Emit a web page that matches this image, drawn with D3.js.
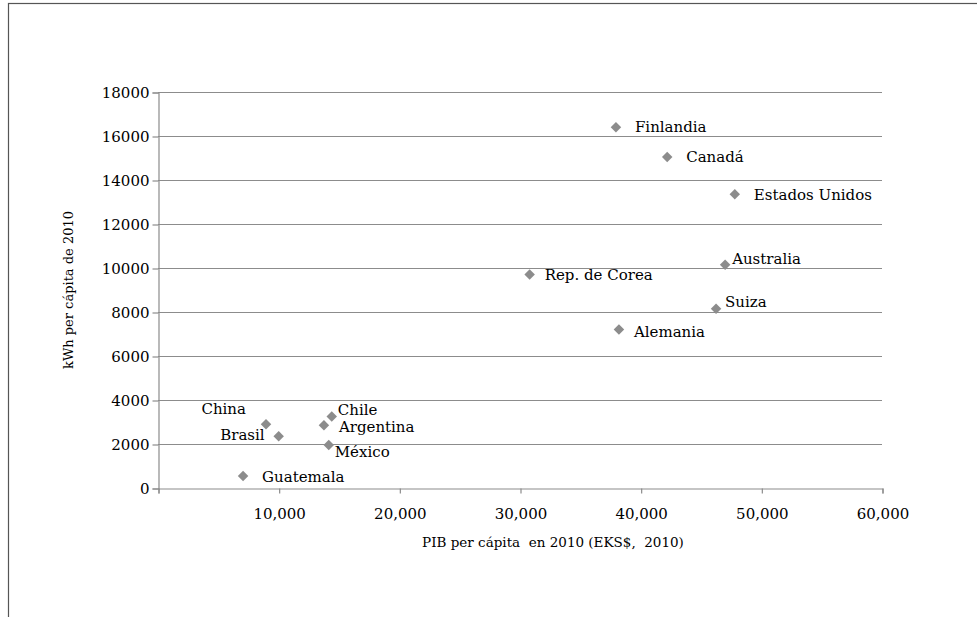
<!DOCTYPE html>
<html>
<head>
<meta charset="utf-8">
<script src="https://cdn.jsdelivr.net/npm/d3@7"></script>
<style>
  body { margin: 0; background: #fff; }
  text { font-family: "DejaVu Serif", serif; fill: #000; }
</style>
</head>
<body>
<div id="canvas"></div>
<script>
"use strict"

/* Data */
let countries = ["Finlandia", "Canadá", "Estados Unidos", "Australia", "Rep. de Corea",
    "Suiza", "Alemania", "China", "Brasil", "Chile", "Argentina", "México", "Guatemala"];
let gdpPerCapita = [37950, 42200, 47800, 47000, 30800, 46250, 38200, 8950, 10000, 14400, 13750, 14150, 7050];
let kwhPerCapita = [16400, 15050, 13350, 10150, 9700, 8150, 7200, 2900, 2350, 3250, 2850, 1950, 550];
let xTicks = [10000, 20000, 30000, 40000, 50000, 60000];
let yTicks = [0, 2000, 4000, 6000, 8000, 10000, 12000, 14000, 16000, 18000];

/* where each label sits next to its marker: dx, dy, anchor */
let labelPlace = {
    "Finlandia": [19, 0, "start"],
    "Canadá": [19, 0, "start"],
    "Estados Unidos": [19, 0, "start"],
    "Australia": [7, -6, "start"],
    "Rep. de Corea": [15, 0, "start"],
    "Suiza": [9, -7, "start"],
    "Alemania": [15, 2, "start"],
    "China": [-20, -15, "end"],
    "Brasil": [-14, -2, "end"],
    "Chile": [6, -7, "start"],
    "Argentina": [15, 1, "start"],
    "México": [6, 7, "start"],
    "Guatemala": [19, 1, "start"]
};

let points = countries.map((c, i) => ({ name: c, x: gdpPerCapita[i], y: kwhPerCapita[i] }));

let drawing = d3.select("#canvas")
    .append("svg")
    .attr("width", 977)
    .attr("height", 617);

/* outer frame (only top and left edges show) */
drawing.append("rect")
    .attr("x", 8.5)
    .attr("y", 3.5)
    .attr("width", 1000)
    .attr("height", 700)
    .attr("fill", "none")
    .attr("stroke", "#555")
    .attr("stroke-width", 1.2);

let plotLeft = 158, plotRight = 882, plotTop = 92, plotBottom = 488;

let x = d3.scaleLinear().domain([0, 60000]).range([plotLeft, plotRight]);
let y = d3.scaleLinear().domain([0, 18000]).range([plotBottom, plotTop]);

/* horizontal gridlines */
drawing.append("g")
    .selectAll("line")
    .data(yTicks.filter(d => d > 0))
    .join("line")
    .attr("x1", plotLeft)
    .attr("x2", plotRight)
    .attr("y1", d => Math.round(y(d)) + 0.5)
    .attr("y2", d => Math.round(y(d)) + 0.5)
    .attr("stroke", "#8c8c8c")
    .attr("stroke-width", 1.2);

/* y axis */
let yAxis = drawing.append("g")
    .attr("transform", `translate(${plotLeft + 0.5},0.5)`)
    .call(d3.axisLeft(y).tickValues(yTicks).tickSize(6).tickPadding(3).tickFormat(d3.format("d")));

/* x axis */
let xAxis = drawing.append("g")
    .attr("transform", `translate(0.5,${plotBottom + 0.5})`)
    .call(d3.axisBottom(x).tickValues([0].concat(xTicks)).tickSize(5).tickPadding(15)
        .tickFormat(d => d === 0 ? "" : d3.format(",")(d)));

[xAxis, yAxis].forEach(a => {
    a.select(".domain").attr("stroke", "#8c8c8c").attr("stroke-width", 1.2);
    a.selectAll(".tick line").attr("stroke", "#8c8c8c").attr("stroke-width", 1.2);
    a.selectAll(".tick text")
        .style("font-family", "'DejaVu Serif', serif")
        .style("font-size", "15px")
        .attr("fill", "#000");
});

/* markers */
let diamond = d3.symbol().type(d3.symbolDiamond2).size(70);
drawing.append("g")
    .selectAll("path")
    .data(points)
    .join("path")
    .attr("d", diamond)
    .attr("transform", d => `translate(${x(d.x)},${y(d.y)})`)
    .attr("fill", "#8c8c8c");

/* labels */
drawing.append("g")
    .selectAll("text")
    .data(points)
    .join("text")
    .attr("x", d => x(d.x) + labelPlace[d.name][0])
    .attr("y", d => y(d.y) + labelPlace[d.name][1])
    .attr("dy", "0.35em")
    .attr("text-anchor", d => labelPlace[d.name][2])
    .style("font-size", "15px")
    .text(d => d.name);

/* axis titles */
drawing.append("text")
    .attr("x", 553)
    .attr("y", 547)
    .attr("text-anchor", "middle")
    .style("font-size", "13.5px")
    .attr("xml:space", "preserve")
    .text("PIB per cápita  en 2010 (EKS$,  2010)");

drawing.append("text")
    .attr("transform", `translate(73,${(plotTop + plotBottom) / 2}) rotate(-90)`)
    .attr("text-anchor", "middle")
    .style("font-size", "13px")
    .text("kWh per cápita de 2010");
</script>
</body>
</html>
